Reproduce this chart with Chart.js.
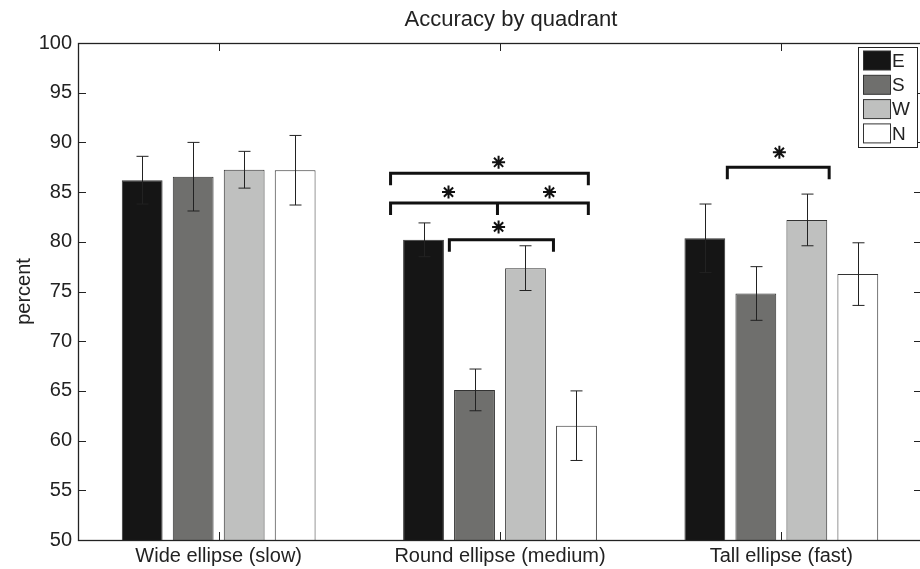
<!DOCTYPE html>
<html>
<head>
<meta charset="utf-8">
<script src="https://cdn.jsdelivr.net/npm/chart.js@4.4.0/dist/chart.umd.min.js"></script>
<style>
  html, body { margin:0; padding:0; background:#fff; overflow:hidden; width:920px; height:569px; }
  canvas { display:block; }
</style>
</head>
<body>
<canvas id="accChart" width="924" height="569" style="width:924px;height:569px"></canvas>
<script>
// categories and series (percent)
const categories = ['Wide ellipse (slow)', 'Round ellipse (medium)', 'Tall ellipse (fast)'];
const seriesNames = ['E', 'S', 'W', 'N'];
const valuesE = [86.2, 80.2, 80.35];
const valuesS = [86.55, 65.1, 74.8];
const valuesW = [87.25, 77.35, 82.2];
const valuesN = [87.2, 61.5, 76.75];
const errE = [2.4, 1.7, 3.45];
const errS = [3.45, 2.1, 2.7];
const errW = [1.85, 2.25, 2.6];
const errN = [3.5, 3.5, 3.15];
const yTicks = [50, 55, 60, 65, 70, 75, 80, 85, 90, 95, 100];

// significance brackets (x in category index units, y in percent)
const bracketFrom = [0.611, 0.611, 0.82, 1.808];
const bracketTo = [1.314, 1.314, 1.19, 2.17];
const bracketLevel = [86.9, 83.9, 80.2, 87.5];
const bracketMid = [null, 0.991, null, null];
const starX = [0.995, 0.817, 1.176, 0.995, 1.993];
const starY = [88.0, 85.0, 85.0, 81.5, 89.0];

const FONT = "'Liberation Sans', Arial, Helvetica, sans-serif";
const INK = '#222';
const fills = ['#151515', '#6f6f6d', '#bfc0bf', '#ffffff'];
const errs = [errE, errS, errW, errN];

const extras = {
  id: 'extras',
  afterDatasetsDraw(chart){
    const ctx = chart.ctx, y = chart.scales.y;
    ctx.save();
    ctx.strokeStyle = INK;
    ctx.lineWidth = 1;
    chart.data.datasets.forEach((ds, di) => {
      const meta = chart.getDatasetMeta(di);
      meta.data.forEach((bar, i) => {
        const e = errs[di][i], v = ds.data[i];
        const x = Math.round(bar.x) + 0.5;
        const yt = y.getPixelForValue(v + e), yb = y.getPixelForValue(v - e);
        ctx.beginPath();
        ctx.moveTo(x, yt); ctx.lineTo(x, yb);
        ctx.moveTo(x - 6, yt); ctx.lineTo(x + 6, yt);
        ctx.moveTo(x - 6, yb); ctx.lineTo(x + 6, yb);
        ctx.stroke();
      });
    });
    ctx.restore();
  },
  afterDraw(chart){
    const ctx = chart.ctx, a = chart.chartArea;
    const xs = chart.scales.x, ys = chart.scales.y;
    ctx.save();
    // frame
    ctx.strokeStyle = INK;
    ctx.lineWidth = 1.3;
    ctx.strokeRect(a.left + 0.5, a.top + 0.5, a.right - a.left, a.bottom - a.top);
    // inward ticks
    ctx.lineWidth = 1;
    ctx.beginPath();
    categories.forEach((c, i) => {
      const x = Math.round(xs.getPixelForValue(i)) + 0.5;
      ctx.moveTo(x, a.bottom); ctx.lineTo(x, a.bottom - 8);
      ctx.moveTo(x, a.top); ctx.lineTo(x, a.top + 8);
    });
    yTicks.forEach(v => {
      const yy = Math.round(ys.getPixelForValue(v)) + 0.5;
      ctx.moveTo(a.left, yy); ctx.lineTo(a.left + 8, yy);
      ctx.moveTo(a.right, yy); ctx.lineTo(a.right - 8, yy);
    });
    ctx.stroke();

    // brackets
    ctx.strokeStyle = '#111';
    ctx.lineWidth = 3;
    ctx.lineCap = 'butt';
    bracketLevel.forEach((lv, i) => {
      const x1 = xs.getPixelForValue(bracketFrom[i]);
      const x2 = xs.getPixelForValue(bracketTo[i]);
      const yTop = ys.getPixelForValue(lv);
      const yLeg = ys.getPixelForValue(lv - 1.2);
      ctx.beginPath();
      ctx.moveTo(x1, yLeg); ctx.lineTo(x1, yTop); ctx.lineTo(x2, yTop); ctx.lineTo(x2, yLeg);
      if (bracketMid[i] !== null){
        const xm = xs.getPixelForValue(bracketMid[i]);
        ctx.moveTo(xm, yTop); ctx.lineTo(xm, yLeg);
      }
      ctx.stroke();
    });
    // stars
    ctx.lineWidth = 2;
    starX.forEach((sx, i) => {
      const cx = xs.getPixelForValue(sx), cy = ys.getPixelForValue(starY[i]);
      ctx.beginPath();
      for (let k = 0; k < 4; k++){
        const ang = k * Math.PI / 4;
        const dx = Math.cos(ang) * 6.5, dy = Math.sin(ang) * 6.5;
        ctx.moveTo(cx - dx, cy - dy); ctx.lineTo(cx + dx, cy + dy);
      }
      ctx.stroke();
    });

    // legend
    const lx = 858, ly = 47, lw = 59, lh = 100;
    ctx.fillStyle = '#fff';
    ctx.fillRect(lx, ly, lw, lh);
    ctx.strokeStyle = INK;
    ctx.lineWidth = 1;
    ctx.strokeRect(lx + 0.5, ly + 0.5, lw, lh);
    ctx.font = '19px ' + FONT;
    ctx.textBaseline = 'middle';
    ctx.textAlign = 'left';
    chart.data.datasets.forEach((ds, i) => {
      const cy = 60.5 + i * 24.3;
      ctx.fillStyle = ds.backgroundColor;
      ctx.fillRect(863, cy - 9.5, 27, 19);
      ctx.strokeStyle = '#333';
      ctx.strokeRect(863.5, cy - 9.5, 27, 19);
      ctx.fillStyle = INK;
      ctx.fillText(ds.label, 892, cy + 1);
    });

    // title
    ctx.font = '22px ' + FONT;
    ctx.textAlign = 'center';
    ctx.fillStyle = INK;
    ctx.fillText('Accuracy by quadrant', 511, 20);
    ctx.restore();
  }
};

const seriesValues = [valuesE, valuesS, valuesW, valuesN];
new Chart(document.getElementById('accChart').getContext('2d'), {
  type: 'bar',
  data: {
    labels: categories,
    datasets: seriesNames.map((n, i) => ({
      label: n,
      data: seriesValues[i],
      backgroundColor: fills[i],
      borderColor: '#333',
      borderWidth: 1,
      categoryPercentage: 0.725,
      barPercentage: 0.8
    }))
  },
  options: {
    responsive: false,
    animation: false,
    layout: { padding: { top: 43, right: 2, left: 0, bottom: 0 } },
    plugins: { legend: { display: false }, tooltip: { enabled: false }, title: { display: false } },
    scales: {
      x: {
        type: 'category',
        offset: true,
        grid: { display: false, drawTicks: false },
        border: { display: false },
        ticks: { color: INK, font: { size: 20, family: FONT }, padding: 4, maxRotation: 0, autoSkip: false },
        afterFit(s){ s.height = 29; }
      },
      y: {
        min: 50, max: 100,
        grid: { display: false, drawTicks: false },
        border: { display: false },
        ticks: { stepSize: 5, color: INK, font: { size: 20, family: FONT }, padding: 6 },
        title: { display: true, text: 'percent', color: INK, font: { size: 20, family: FONT }, padding: { top: 12, bottom: 0 } },
        afterFit(s){ s.width = 78; }
      }
    }
  },
  plugins: [extras]
});
</script>
</body>
</html>
